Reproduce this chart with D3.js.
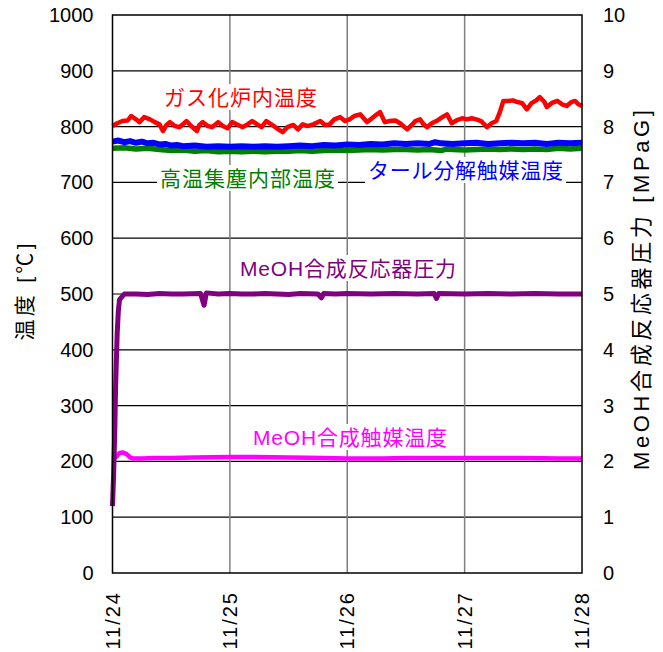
<!DOCTYPE html>
<html>
<head>
<meta charset="utf-8">
<script src="https://cdn.jsdelivr.net/npm/d3@7"></script>
<style>
  html, body { margin: 0; padding: 0; background: #fff; }
  svg { display: block; }
  text { font-family: "Liberation Sans", Arial, "Noto Sans CJK JP", sans-serif; }
</style>
</head>
<body>
<svg id="chart" width="663" height="652"></svg>
<script>
/* MeOH trial run: temperatures (left axis, degC) and reactor pressure (right axis, MPaG) */

// x axis: days from 11/24 00:00
var dateTicks = [0, 1, 2, 3, 4];
var dateLabels = ["11/24", "11/25", "11/26", "11/27", "11/28"];
var tempTicks = [0, 100, 200, 300, 400, 500, 600, 700, 800, 900, 1000];
var pressTicks = [0, 1, 2, 3, 4, 5, 6, 7, 8, 9, 10];

// ガス化炉内温度 [day, degC]
var gasifierTemp = [
  [0, 801], [0.04, 806], [0.085, 810], [0.13, 811], [0.16, 819], [0.2, 813], [0.23, 808],
  [0.27, 817], [0.32, 813], [0.36, 808], [0.4, 804], [0.43, 792], [0.46, 803], [0.49, 808],
  [0.53, 801], [0.57, 799], [0.61, 806], [0.63, 810], [0.67, 801], [0.72, 792], [0.74, 803],
  [0.77, 808], [0.81, 801], [0.85, 799], [0.9, 808], [0.94, 801], [0.98, 797], [1.02, 808],
  [1.07, 803], [1.11, 799], [1.15, 804], [1.19, 810], [1.24, 803], [1.27, 799], [1.31, 810],
  [1.36, 803], [1.4, 797], [1.45, 790], [1.49, 799], [1.54, 803], [1.58, 795], [1.62, 804],
  [1.66, 801], [1.71, 804], [1.77, 810], [1.81, 803], [1.85, 804], [1.89, 813], [1.94, 817],
  [1.98, 810], [2.02, 813], [2.06, 819], [2.11, 822], [2.14, 815], [2.17, 808], [2.21, 815],
  [2.24, 820], [2.28, 826], [2.32, 808], [2.36, 810], [2.41, 811], [2.45, 806], [2.51, 795],
  [2.55, 803], [2.58, 810], [2.62, 813], [2.65, 804], [2.68, 799], [2.72, 806], [2.76, 810],
  [2.81, 817], [2.85, 822], [2.89, 806], [2.93, 811], [2.98, 815], [3.02, 813], [3.06, 815],
  [3.1, 813], [3.14, 810], [3.19, 799], [3.23, 806], [3.27, 810], [3.3, 826], [3.33, 846],
  [3.37, 846], [3.41, 847], [3.45, 844], [3.49, 842], [3.53, 831], [3.57, 842], [3.61, 847],
  [3.64, 853], [3.68, 844], [3.7, 835], [3.74, 842], [3.79, 846], [3.83, 840], [3.87, 837],
  [3.91, 844], [3.94, 846], [3.97, 840], [4.0, 837]
];

// タール分解触媒温度 [day, degC]
var tarCatTemp = [
  [0, 773], [0.05, 775], [0.1, 772], [0.15, 774], [0.2, 771], [0.25, 773], [0.3, 770],
  [0.35, 771], [0.4, 768], [0.45, 769], [0.5, 766], [0.55, 767], [0.6, 765], [0.7, 766],
  [0.8, 764], [0.9, 765], [1.0, 764], [1.1, 765], [1.2, 764], [1.3, 765], [1.4, 764],
  [1.5, 765], [1.6, 766], [1.7, 765], [1.8, 767], [1.9, 766], [2.0, 768], [2.1, 767],
  [2.2, 769], [2.3, 768], [2.4, 770], [2.5, 769], [2.6, 770], [2.7, 769], [2.75, 772],
  [2.8, 770], [2.9, 769], [3.0, 770], [3.1, 771], [3.2, 769], [3.3, 770], [3.4, 771],
  [3.5, 770], [3.6, 771], [3.7, 769], [3.8, 771], [3.9, 770], [4.0, 771]
];

// 高温集塵内部温度 [day, degC]
var dustTemp = [
  [0, 761], [0.1, 762], [0.2, 760], [0.3, 761], [0.4, 759], [0.5, 757], [0.6, 758],
  [0.7, 756], [0.8, 757], [0.9, 755], [1.0, 756], [1.1, 755], [1.2, 756], [1.3, 755],
  [1.4, 756], [1.5, 756], [1.6, 757], [1.7, 756], [1.8, 757], [1.9, 758], [2.0, 757],
  [2.1, 758], [2.2, 759], [2.3, 758], [2.4, 759], [2.5, 759], [2.6, 758], [2.7, 759],
  [2.8, 757], [2.85, 760], [2.9, 759], [3.0, 758], [3.1, 759], [3.2, 760], [3.3, 759],
  [3.4, 760], [3.5, 759], [3.6, 760], [3.7, 759], [3.8, 761], [3.9, 760], [4.0, 761]
];

// MeOH合成触媒温度 [day, degC]
var meohCatTemp = [
  [0, 207], [0.03, 208], [0.06, 215], [0.09, 216], [0.12, 213], [0.15, 207], [0.18, 205],
  [0.25, 205], [0.35, 206], [0.5, 206], [0.7, 207], [1.0, 208], [1.2, 208], [1.5, 207],
  [1.8, 206], [2.0, 205], [2.3, 205], [2.5, 206], [2.8, 206], [3.0, 206], [3.3, 206],
  [3.5, 206], [3.8, 205], [4.0, 205]
];

// MeOH合成反応器圧力 [day, MPaG]
var reactorPress = [
  [0, 1.2], [0.01, 1.8], [0.02, 2.6], [0.025, 3.2], [0.03, 3.6], [0.04, 4.3], [0.05, 4.7],
  [0.06, 4.9], [0.08, 4.95], [0.1, 5.0], [0.2, 5.0], [0.3, 4.99], [0.4, 5.01], [0.5, 5.0],
  [0.6, 5.0], [0.75, 5.01], [0.78, 4.8], [0.8, 5.02], [0.9, 5.0], [1.0, 5.01], [1.1, 5.0],
  [1.2, 5.0], [1.3, 5.01], [1.4, 5.0], [1.5, 4.99], [1.6, 5.01], [1.75, 5.0], [1.78, 4.93],
  [1.8, 5.01], [1.9, 5.0], [2.0, 5.01], [2.2, 5.0], [2.4, 5.01], [2.6, 5.0], [2.74, 5.01],
  [2.76, 4.92], [2.78, 5.01], [3.0, 5.0], [3.2, 5.01], [3.4, 5.0], [3.6, 5.01], [3.8, 5.0],
  [4.0, 5.0]
];

(function () {
  var svg = d3.select("#chart");
  var pL = 112.5, pR = 582, pT = 15, pB = 573;

  var x = d3.scaleLinear().domain([0, 4]).range([pL, pR]);
  var yT = d3.scaleLinear().domain([0, 1000]).range([pB, pT]);
  var yP = d3.scaleLinear().domain([0, 10]).range([pB, pT]);

  // grid
  svg.append("g").selectAll("line").data(tempTicks.slice(1, -1)).join("line")
    .attr("x1", pL).attr("x2", pR)
    .attr("y1", function (d) { return yT(d); }).attr("y2", function (d) { return yT(d); })
    .attr("stroke", "#000").attr("stroke-width", 1.2);
  svg.append("g").selectAll("line").data(dateTicks.slice(1, -1)).join("line")
    .attr("x1", function (d) { return x(d); }).attr("x2", function (d) { return x(d); })
    .attr("y1", pT).attr("y2", pB)
    .attr("stroke", "#7f7f7f").attr("stroke-width", 1.5);

  // series
  function drawLine(data, scale, color, width) {
    var line = d3.line()
      .x(function (d) { return x(d[0]); })
      .y(function (d) { return scale(d[1]); });
    svg.append("path").datum(data)
      .attr("d", line)
      .attr("fill", "none")
      .attr("stroke", color)
      .attr("stroke-width", width)
      .attr("stroke-linejoin", "round");
  }
  drawLine(meohCatTemp, yT, "#ff00ff", 4.5);
  drawLine(dustTemp, yT, "#008000", 5.5);
  drawLine(tarCatTemp, yT, "#0000ff", 6);
  drawLine(gasifierTemp, yT, "#ff0000", 4.5);
  drawLine(reactorPress, yP, "#800080", 5);

  // frame
  svg.append("rect")
    .attr("x", pL).attr("y", pT)
    .attr("width", pR - pL).attr("height", pB - pT)
    .attr("fill", "none").attr("stroke", "#000").attr("stroke-width", 1.5);

  // axes
  var axL = svg.append("g").attr("transform", "translate(" + pL + ",0)")
    .call(d3.axisLeft(yT).tickValues(tempTicks).tickFormat(d3.format("d")).tickSize(0).tickPadding(19));
  var axR = svg.append("g").attr("transform", "translate(" + pR + ",0)")
    .call(d3.axisRight(yP).tickValues(pressTicks).tickFormat(d3.format("d")).tickSize(0).tickPadding(21));
  [axL, axR].forEach(function (ax) {
    ax.select(".domain").remove();
    ax.selectAll("text").attr("font-size", 20).attr("fill", "#000")
      .attr("font-family", "'Liberation Sans', Arial, sans-serif");
  });

  svg.append("g").selectAll("text").data(dateTicks).join("text")
    .attr("transform", function (d) { return "translate(" + x(d) + ",591) rotate(-90)"; })
    .attr("text-anchor", "end")
    .attr("dominant-baseline", "central")
    .attr("font-size", 20)
    .attr("letter-spacing", 2)
    .text(function (d, i) { return dateLabels[i]; });

  // axis titles
  svg.append("text")
    .attr("transform", "translate(24,292) rotate(-90)")
    .attr("text-anchor", "middle").attr("dominant-baseline", "central")
    .attr("font-size", 21).attr("textLength", 97).attr("lengthAdjust", "spacing")
    .text("温度 [℃]");
  svg.append("text")
    .attr("transform", "translate(641,290) rotate(-90)")
    .attr("text-anchor", "middle").attr("dominant-baseline", "central")
    .attr("font-size", 22).attr("textLength", 360).attr("lengthAdjust", "spacing")
    .text("MeOH合成反応器圧力 [MPaG]");

  // series labels (white box hides the grid behind them)
  var labels = [
    { text: "ガス化炉内温度", x: 164, y: 97, w: 153, color: "#ff0000" },
    { text: "高温集塵内部温度", x: 160, y: 178, w: 175, color: "#008000" },
    { text: "タール分解触媒温度", x: 368, y: 170, w: 195, color: "#0000ff" },
    { text: "MeOH合成反応器圧力", x: 240, y: 268, w: 216, color: "#800080" },
    { text: "MeOH合成触媒温度", x: 253, y: 437, w: 194, color: "#ff00ff" }
  ];
  labels.forEach(function (l) {
    svg.append("rect")
      .attr("x", l.x - 3).attr("y", l.y - 13)
      .attr("width", l.w + 6).attr("height", 26)
      .attr("fill", "#fff");
    svg.append("text")
      .attr("x", l.x).attr("y", l.y)
      .attr("dominant-baseline", "central")
      .attr("font-size", 21)
      .attr("textLength", l.w).attr("lengthAdjust", "spacing")
      .attr("fill", l.color)
      .text(l.text);
  });
})();
</script>
</body>
</html>
